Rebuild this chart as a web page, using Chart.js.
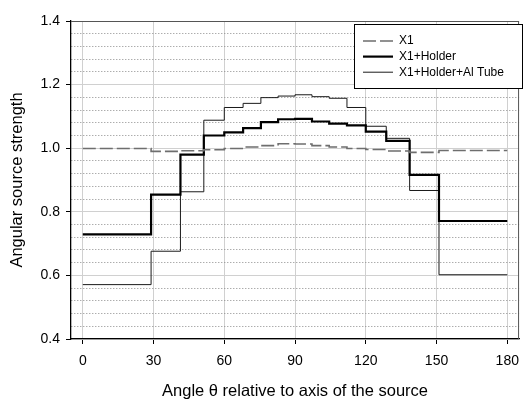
<!DOCTYPE html>
<html>
<head>
<meta charset="utf-8">
<script src="https://cdn.jsdelivr.net/npm/chart.js@4/dist/chart.umd.min.js"></script>
<style>
    html, body { margin: 0; padding: 0; background: #fff; }
    #chart { display: block; }
</style>
</head>
<body>
<canvas id="chart" width="528" height="399"></canvas>
<script>
// bin edges in degrees (equal cos bins) and per-bin values
const binEdges = [0, 28.96, 41.41, 51.32, 60, 67.98, 75.52, 82.82, 90, 97.18, 104.48, 112.02, 120, 128.68, 138.59, 151.04, 180];
const x1Values = [0.999, 0.990, 0.992, 0.995, 0.999, 1.004, 1.008, 1.014, 1.013, 1.008, 1.004, 0.999, 0.996, 0.991, 0.987, 0.993];
const holderValues = [0.729, 0.854, 0.980, 1.040, 1.050, 1.063, 1.082, 1.091, 1.092, 1.084, 1.077, 1.072, 1.052, 1.023, 0.916, 0.771];
const alTubeValues = [0.571, 0.676, 0.863, 1.088, 1.128, 1.141, 1.159, 1.164, 1.168, 1.162, 1.157, 1.128, 1.069, 1.031, 0.867, 0.602];

const seriesLabels = ['X1', 'X1+Holder', 'X1+Holder+Al Tube'];
const xTickValues = [0, 30, 60, 90, 120, 150, 180];
const yMin = 0.4;
const yMax = 1.4;
const yMinorStep = 0.04;

const FONT = 'Arial, "Liberation Sans", sans-serif';

// stepped: 'before' keeps each value until the next edge
const toSteps = (values) => binEdges.map((x, i) => ({ x, y: values[Math.min(i, values.length - 1)] }));

const isMajor = (v) => Math.abs(v * 5 - Math.round(v * 5)) < 1e-6;

const frameAndLegend = {
    id: 'frameAndLegend',
    afterDraw(chart) {
        const { ctx, chartArea } = chart;
        ctx.save();

        // top and right frame
        ctx.strokeStyle = '#555';
        ctx.lineWidth = 1;
        ctx.beginPath();
        ctx.moveTo(chartArea.left, chartArea.top + 0.5);
        ctx.lineTo(chartArea.right, chartArea.top + 0.5);
        ctx.moveTo(chartArea.right - 0.5, chartArea.top);
        ctx.lineTo(chartArea.right - 0.5, chartArea.bottom);
        ctx.stroke();

        // legend box
        const box = { left: 354.5, top: 24.5, width: 168, height: 64 };
        ctx.fillStyle = '#fff';
        ctx.fillRect(box.left, box.top, box.width, box.height);
        ctx.strokeStyle = '#000';
        ctx.lineWidth = 1;
        ctx.strokeRect(box.left, box.top, box.width, box.height);

        ctx.font = `12px ${FONT}`;
        ctx.textBaseline = 'middle';
        ctx.textAlign = 'left';
        chart.data.datasets.forEach((ds, i) => {
            const y = 41 + i * 15.6;
            ctx.save();
            ctx.strokeStyle = ds.borderColor;
            ctx.lineWidth = ds.borderWidth;
            ctx.setLineDash(ds.borderDash || []);
            ctx.beginPath();
            ctx.moveTo(363, y);
            ctx.lineTo(393, y);
            ctx.stroke();
            ctx.restore();
            ctx.fillStyle = '#000';
            ctx.fillText(ds.label, 399, y);
        });

        ctx.restore();
    },
};

new Chart(document.getElementById('chart'), {
    type: 'line',
    data: {
        datasets: [
            {
                label: seriesLabels[0],
                data: toSteps(x1Values),
                borderColor: '#6e6e6e',
                borderWidth: 1.6,
                borderDash: [13, 4],
                stepped: 'before',
                pointRadius: 0,
            },
            {
                label: seriesLabels[1],
                data: toSteps(holderValues),
                borderColor: '#000',
                borderWidth: 2.2,
                stepped: 'before',
                pointRadius: 0,
            },
            {
                label: seriesLabels[2],
                data: toSteps(alTubeValues),
                borderColor: '#1a1a1a',
                borderWidth: 1,
                stepped: 'before',
                pointRadius: 0,
            },
        ],
    },
    options: {
        responsive: false,
        animation: false,
        layout: {
            padding: { top: 21, right: 1.5, left: 0, bottom: 0 },
        },
        plugins: {
            legend: { display: false },
            tooltip: { enabled: false },
        },
        scales: {
            x: {
                type: 'linear',
                min: -5,
                max: 185,
                afterBuildTicks: (scale) => {
                    scale.ticks = xTickValues.map((value) => ({ value }));
                },
                afterFit: (scale) => {
                    scale.height = 60;
                },
                grid: {
                    color: '#d0d0d0',
                    lineWidth: 1,
                    tickLength: 5,
                    tickColor: '#000',
                },
                border: { color: '#000', width: 1.3 },
                ticks: {
                    color: '#000',
                    padding: 9,
                    maxRotation: 0,
                    font: { family: FONT, size: 14 },
                },
                title: {
                    display: true,
                    text: 'Angle θ relative to axis of the source',
                    color: '#000',
                    font: { family: FONT, size: 16.5, lineHeight: 1 },
                    padding: { top: 0, bottom: -1 },
                },
            },
            y: {
                min: yMin,
                max: yMax,
                afterFit: (scale) => {
                    scale.width = 71;
                },
                grid: {
                    color: (ctx) => (isMajor(ctx.tick.value) ? '#d0d0d0' : '#8a8a8a'),
                    lineWidth: 1,
                    tickLength: 5,
                    tickColor: (ctx) => (isMajor(ctx.tick.value) ? '#000' : 'rgba(0,0,0,0)'),
                },
                border: {
                    color: '#000',
                    width: 1.3,
                    dash: (ctx) => (ctx.tick && !isMajor(ctx.tick.value) ? [1, 2] : []),
                },
                ticks: {
                    stepSize: yMinorStep,
                    color: '#000',
                    padding: 6,
                    autoSkip: false,
                    font: { family: FONT, size: 14 },
                    callback: (value) => (isMajor(value) ? value.toFixed(1) : ''),
                },
                title: {
                    display: true,
                    text: 'Angular source strength',
                    color: '#000',
                    font: { family: FONT, size: 16.5, lineHeight: 1.2 },
                    padding: { top: 7.5, bottom: 0 },
                },
            },
        },
    },
    plugins: [frameAndLegend],
});
</script>
</body>
</html>
